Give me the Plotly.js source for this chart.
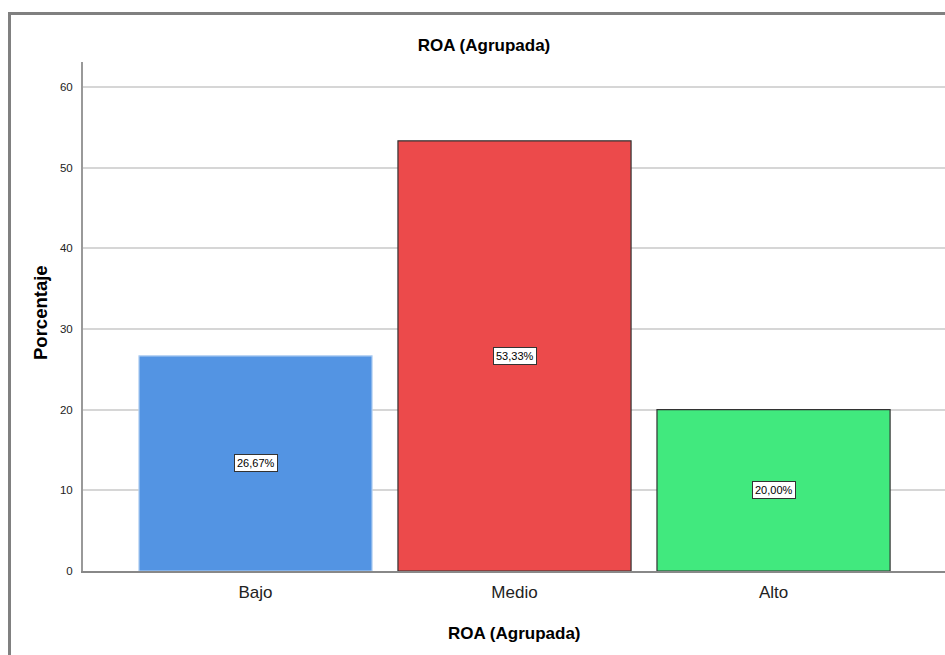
<!DOCTYPE html>
<html>
<head>
<meta charset="utf-8">
<script src="https://cdn.plot.ly/plotly-3.0.1.min.js"></script>
<style>html,body{margin:0;padding:0;background:#fff;}#chart{width:945px;height:655px;}</style>
</head>
<body>
<div id="chart"></div>
<script>
const categories = ['Bajo', 'Medio', 'Alto'];
const values = [26.67, 53.33, 20.00];
const barColors = ['#5394e3', '#ec4a4b', '#41e97e'];
const edgeColors = ['#b3d0f2', '#333333', '#333333'];
const yTicks = [0, 10, 20, 30, 40, 50, 60];

const L = 83, R = 945, T = 62, B = 571;
const px = v => (v - L) / (R - L);
const py = v => (B - v) / (B - T);
const FONT = 'Liberation Sans, Arial, sans-serif';

const trace = {
  type: 'bar',
  x: categories,
  y: values,
  width: 0.9,
  marker: { color: barColors, line: { color: edgeColors, width: 1.2 } },
  hoverinfo: 'skip'
};

const annotations = categories.map((c, i) => ({
  x: c, y: values[i] / 2, xref: 'x', yref: 'y',
  text: values[i].toFixed(2).replace('.', ',') + '%',
  showarrow: false,
  bgcolor: '#ffffff', bordercolor: '#333333', borderwidth: 1, borderpad: 2,
  font: { family: FONT, size: 11, color: '#000' }
}));

const layoutAnn = annotations.concat([
  {
    text: 'Porcentaje', xref: 'paper', yref: 'paper',
    x: px(40), y: py(313), xanchor: 'center', yanchor: 'middle',
    textangle: -90, showarrow: false,
    font: { family: FONT, size: 18.5, color: '#000', weight: 'bold' }
  },
  {
    text: 'ROA (Agrupada)', xref: 'paper', yref: 'paper',
    x: 0.5, y: py(633), xanchor: 'center', yanchor: 'middle',
    showarrow: false,
    font: { family: FONT, size: 17, color: '#000', weight: 'bold' }
  }
]);

const layout = {
  width: 945, height: 655,
  margin: { l: L, r: 945 - R, t: T, b: 655 - B, pad: 0 },
  paper_bgcolor: '#ffffff', plot_bgcolor: '#ffffff',
  showlegend: false,
  title: {
    text: 'ROA (Agrupada)', x: 484 / 945, xref: 'container', xanchor: 'center',
    y: 1 - 45 / 655, yref: 'container', yanchor: 'middle',
    font: { family: FONT, size: 17, color: '#000', weight: 'bold' }
  },
  xaxis: {
    type: 'category',
    range: [-0.666, 2.662],
    showgrid: false, zeroline: false,
    showline: true, linecolor: '#888888', linewidth: 2,
    ticks: '', ticklabelstandoff: 5,
    tickfont: { family: FONT, size: 17, color: '#222' }
  },
  yaxis: {
    range: [0, 63.1],
    tickvals: yTicks, ticktext: yTicks.map(String),
    showgrid: true, gridcolor: '#d6d6d6', gridwidth: 2,
    zeroline: false,
    showline: true, linecolor: '#999999', linewidth: 2,
    ticks: '', ticklabelstandoff: 6,
    tickfont: { family: FONT, size: 11.5, color: '#222' }
  },
  annotations: layoutAnn,
  shapes: [
    { type: 'line', xref: 'paper', yref: 'paper', x0: px(8), x1: px(945), y0: py(13.5), y1: py(13.5),
      line: { color: '#808080', width: 3 } },
    { type: 'line', xref: 'paper', yref: 'paper', x0: px(9.5), x1: px(9.5), y0: py(12), y1: py(655),
      line: { color: '#808080', width: 3 } }
  ]
};

Plotly.newPlot('chart', [trace], layout, { displayModeBar: false, staticPlot: true });
</script>
</body>
</html>
